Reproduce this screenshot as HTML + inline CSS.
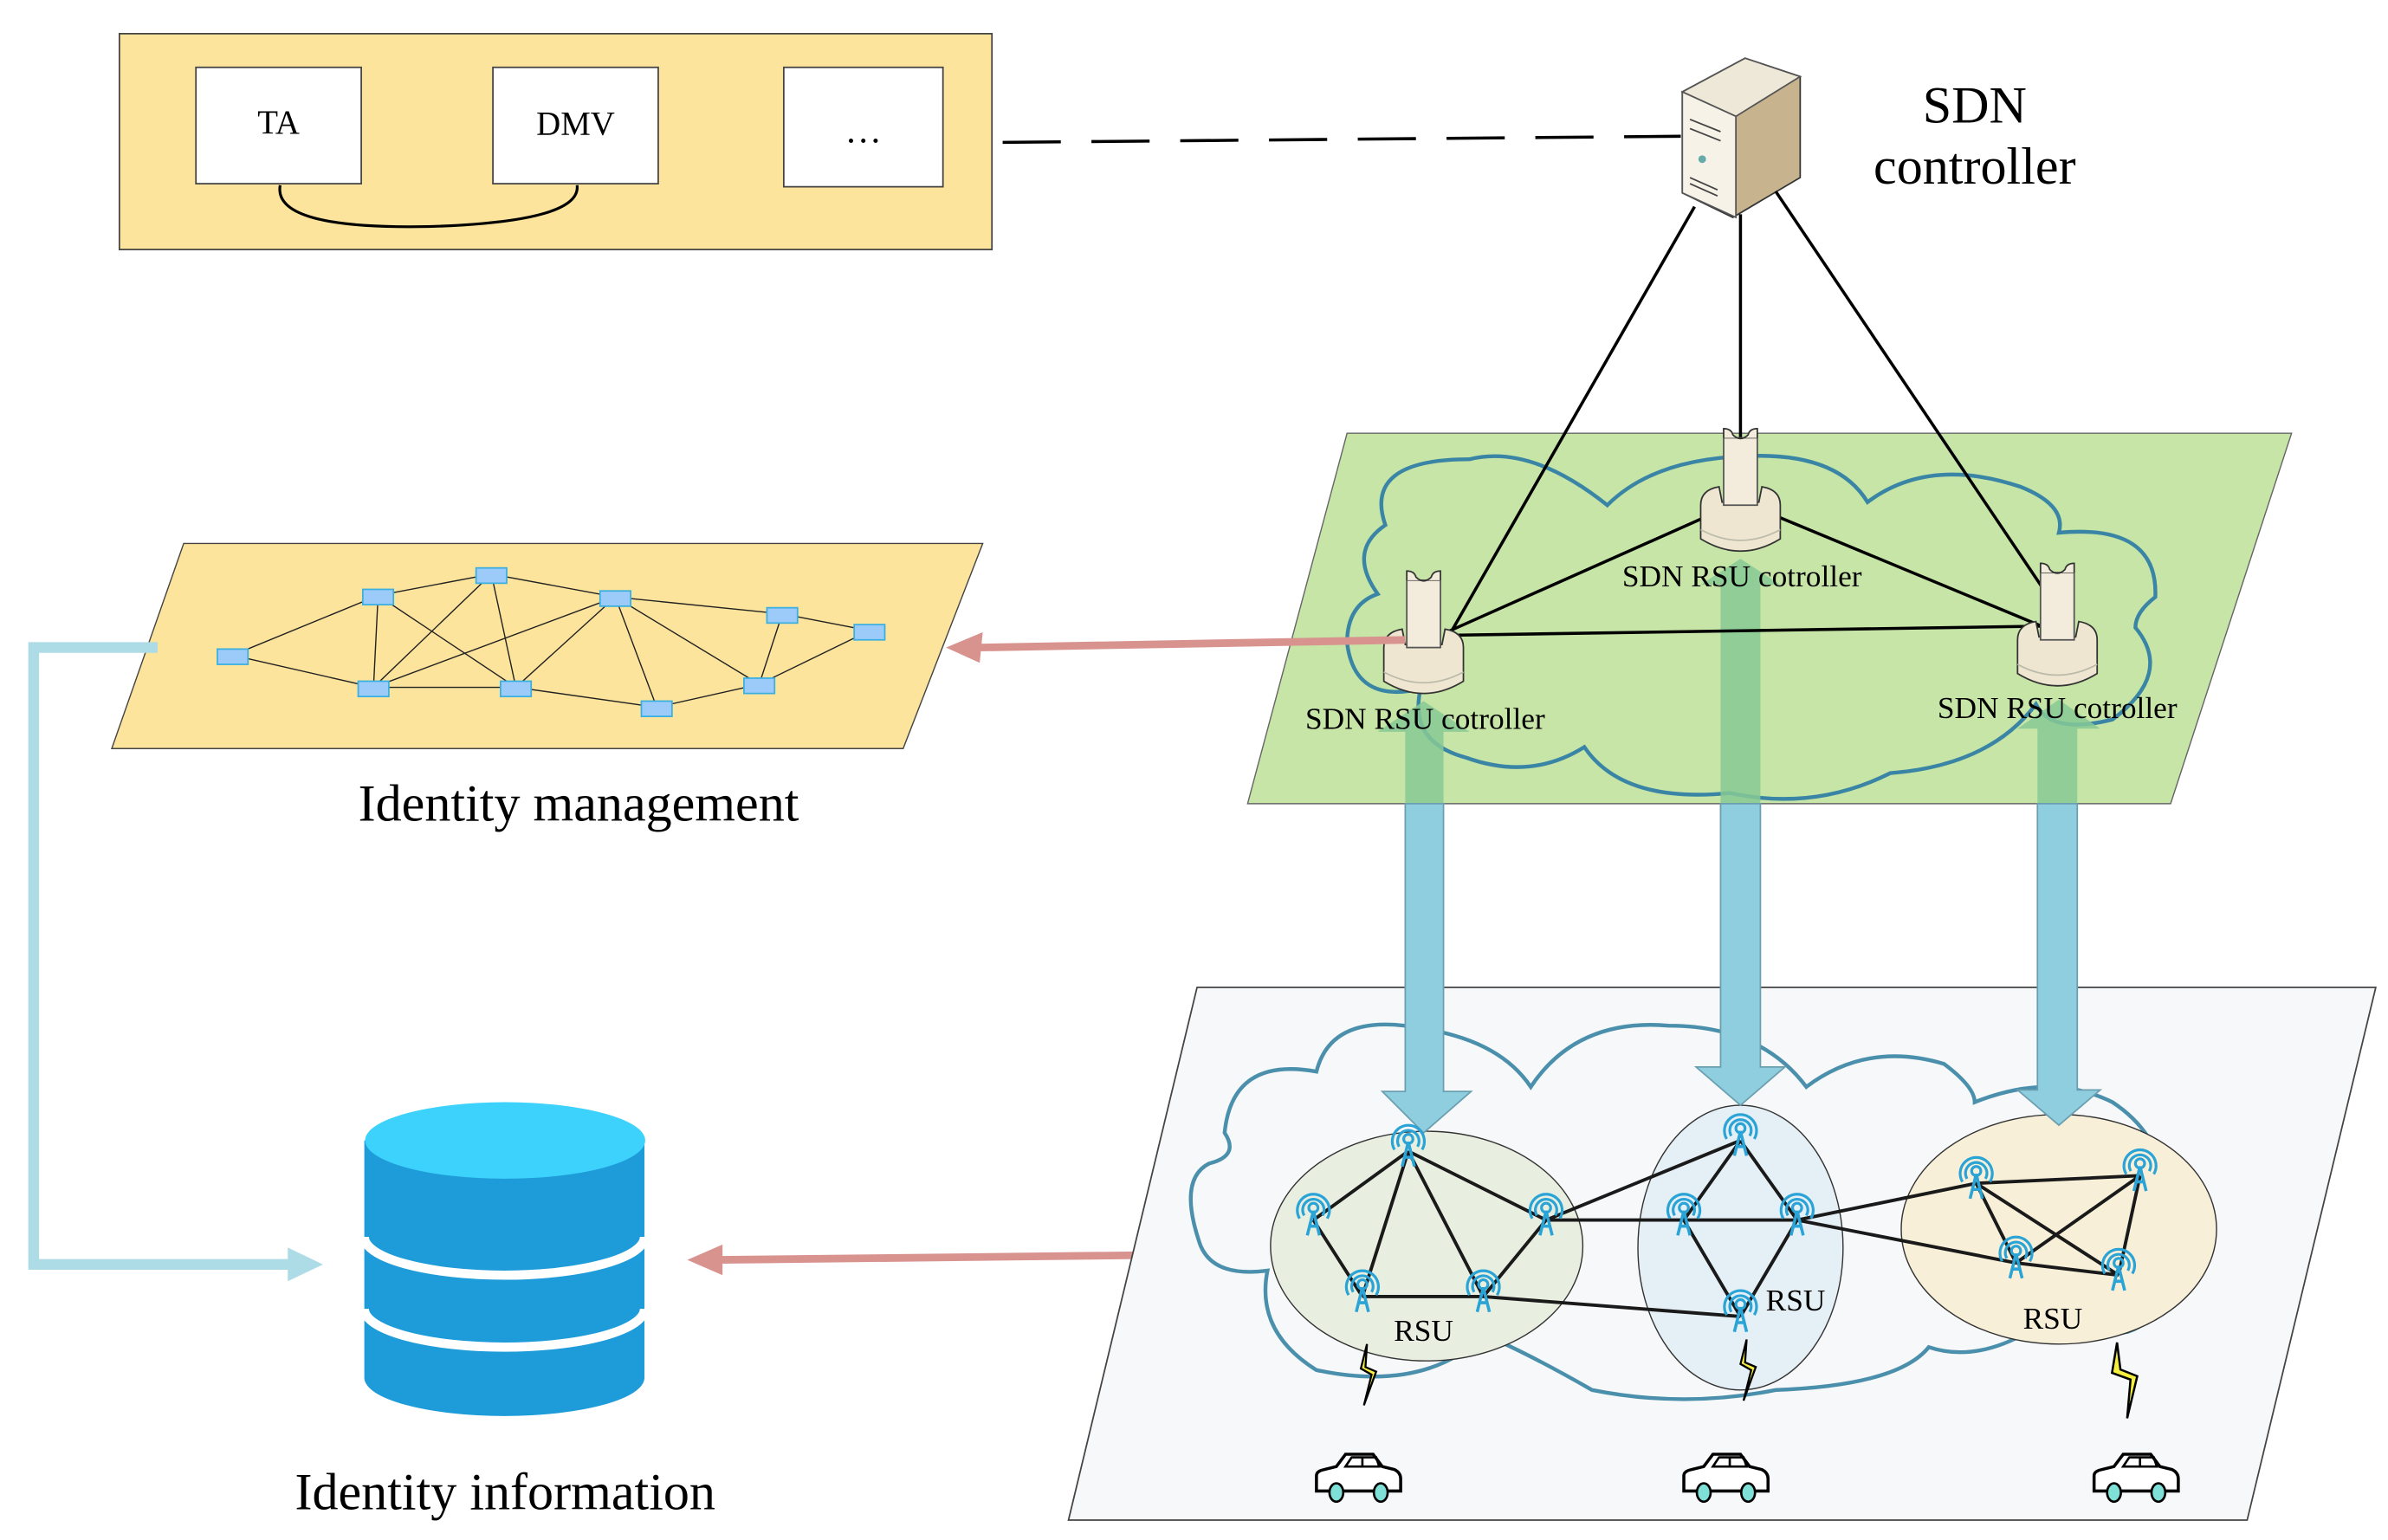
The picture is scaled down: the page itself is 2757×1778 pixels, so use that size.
<!DOCTYPE html>
<html><head><meta charset="utf-8"><style>
html,body{margin:0;padding:0;background:#fff;}
svg{display:block;}
text{font-family:"Liberation Serif",serif;fill:#000;}
</style></head><body>
<svg width="2757" height="1778" viewBox="0 0 1560 1006" preserveAspectRatio="none" xmlns="http://www.w3.org/2000/svg">
<defs>
<g id="tower">
 <path d="M-4,10 L0,-6 L4,10 M-2.5,4 L2.5,4" stroke="#2aa3d6" stroke-width="2" fill="none"/>
 <circle cx="0" cy="-8" r="3" fill="none" stroke="#2aa3d6" stroke-width="1.8"/>
 <path d="M-6,-3 A7,7 0 1 1 6,-3 M-9,-1 A10.5,10.5 0 1 1 9,-1" fill="none" stroke="#2aa3d6" stroke-width="1.8"/>
</g>
<g id="ctrl">
 <path d="M-26,8 Q-26,-2 -14,-4 L-12,6 L12,6 L14,-4 Q26,-2 26,8 L26,30 Q0,46 -26,30 Z" fill="#efe6d2" stroke="#333" stroke-width="1"/>
 <path d="M-26,24 Q0,38 26,24" fill="none" stroke="#bba" stroke-width="1"/>
 <rect x="-11" y="-36" width="22" height="44" fill="#f3ecdc" stroke="#555" stroke-width="1"/>
 <path d="M-11,-36 L-11,-42 Q-6,-42 -5,-38 Q0,-33 5,-38 Q6,-42 11,-42 L11,-36" fill="#f3ecdc" stroke="#333"/>
</g>
<g id="car">
 <path d="M-27,8 L-27,-2 Q-27,-5 -22,-6 L-14,-8 L-8,-16 L10,-16 L16,-8 L24,-6 Q28,-4 28,0 L28,8 Z" fill="#fff" stroke="#000" stroke-width="2"/>
 <path d="M-8,-8 L-4,-14 L12,-14 L14,-8 Z M3,-14 L3,-8" fill="none" stroke="#000" stroke-width="1.5"/>
 <ellipse cx="-14" cy="9" rx="4.5" ry="6" fill="#7fe0d8" stroke="#000" stroke-width="1.5"/>
 <ellipse cx="15" cy="9" rx="4.5" ry="6" fill="#7fe0d8" stroke="#000" stroke-width="1.5"/>
</g>
<g id="bolt"><path d="M0,0 L-4,16 L3,20 L-2,40 L6,18 L-1,15 Z" fill="#f5f040" stroke="#000" stroke-width="1.3"/></g>
</defs>

<!-- top yellow box -->
<rect x="78" y="22" width="570" height="141" fill="#fde49c" stroke="#444" stroke-width="1"/>
<rect x="128" y="44" width="108" height="76" fill="#fff" stroke="#444"/>
<rect x="322" y="44" width="108" height="76" fill="#fff" stroke="#444"/>
<rect x="512" y="44" width="104" height="78" fill="#fff" stroke="#444"/>
<text x="182" y="87" font-size="22" text-anchor="middle">TA</text>
<text x="376" y="88" font-size="22" text-anchor="middle">DMV</text>
<text x="564" y="93" font-size="24" text-anchor="middle">…</text>
<path d="M183,121 Q178,150 280,148 Q380,145 377,121" fill="none" stroke="#000" stroke-width="1.8"/>
<path d="M655,93 L1098,89" stroke="#000" stroke-width="2" stroke-dasharray="38,20"/>

<!-- server -->
<polygon points="1099,60 1140,38 1176,50 1176,116 1132,142 1099,126" fill="#c7b48f" stroke="#333"/>
<polygon points="1099,60 1134,76 1176,50 1140,38" fill="#eee8d8" stroke="#555"/>
<polygon points="1099,60 1134,76 1134,142 1099,126" fill="#f6f2e8" stroke="#555"/>
<circle cx="1112" cy="104" r="2.5" fill="#6aa"/>
<path d="M1104,78 L1124,86 M1104,84 L1124,92 M1104,116 L1122,124 M1104,120 L1122,128" stroke="#444"/>
<text x="1290" y="80" font-size="34" text-anchor="middle">SDN</text>
<text x="1290" y="120" font-size="34" text-anchor="middle">controller</text>

<!-- green plane -->
<polygon points="880,283 1497,283 1418,525 815,525" fill="#c6e5a6" stroke="#666" stroke-width="0.8"/>
<path d="M905,343 Q890,300 960,300 Q1000,290 1050,330 Q1080,300 1140,298 Q1200,295 1220,328 Q1260,298 1320,318 Q1350,330 1345,348 Q1410,342 1408,390 Q1395,400 1395,410 Q1420,440 1380,470 Q1340,480 1330,460 Q1300,500 1235,505 Q1185,530 1130,518 Q1060,525 1035,488 Q1000,510 958,495 Q920,485 928,450 Q885,460 880,420 Q880,395 900,388 Q880,360 905,343 Z" fill="none" stroke="#3a85a5" stroke-width="2.5"/>

<!-- up arrows in green plane -->
<g fill="#86c994" opacity="0.85">
<path d="M918,525 L943,525 L943,478 L960,478 L930,458 L900,478 L918,478 Z"/>
<path d="M1124,525 L1150,525 L1150,382 L1163,382 L1137,365 L1111,382 L1124,382 Z"/>
<path d="M1331,525 L1357,525 L1357,476 L1372,476 L1345,457 L1318,476 L1331,476 Z"/>
</g>

<!-- controller lines -->
<g stroke="#000" stroke-width="2" fill="none">
<path d="M1107,135 L945,418"/>
<path d="M1137,140 L1137,290"/>
<path d="M1160,125 L1337,388"/>
<path d="M945,413 L1127,332"/>
<path d="M1148,332 L1336,410"/>
<path d="M945,415 L1336,409"/>
</g>
<use href="#ctrl" x="1137" y="322"/>
<use href="#ctrl" x="930" y="415"/>
<use href="#ctrl" x="1344" y="410"/>
<text x="1138" y="383" font-size="20" text-anchor="middle">SDN RSU cotroller</text>
<text x="931" y="476" font-size="20" text-anchor="middle">SDN RSU cotroller</text>
<text x="1344" y="469" font-size="20" text-anchor="middle">SDN RSU cotroller</text>

<!-- identity management -->
<polygon points="120,355 642,355 590,489 73,489" fill="#fde49c" stroke="#444" stroke-width="0.8"/>
<g stroke="#222" stroke-width="0.8">
<path d="M152,428 L247,389 M152,428 L244,449 M247,389 L321,375 M247,389 L244,449 M247,389 L337,449 M321,375 L244,449 M321,375 L337,449 M321,375 L402,390 M402,390 L244,449 M402,390 L337,449 M402,390 L511,401 M402,390 L429,462 M402,390 L496,447 M511,401 L568,412 M511,401 L496,447 M568,412 L496,447 M244,449 L337,449 M337,449 L429,462 M429,462 L496,447"/>
</g>
<g fill="#9ccaf9" stroke="#3bb0e0" stroke-width="1">
<rect x="142" y="424" width="20" height="10"/><rect x="237" y="385" width="20" height="10"/><rect x="311" y="371" width="20" height="10"/><rect x="392" y="386" width="20" height="10"/><rect x="501" y="397" width="20" height="10"/><rect x="558" y="408" width="20" height="10"/><rect x="234" y="445" width="20" height="10"/><rect x="327" y="445" width="20" height="10"/><rect x="419" y="458" width="20" height="10"/><rect x="486" y="443" width="20" height="10"/>
</g>
<text x="378" y="536" font-size="34" text-anchor="middle">Identity management</text>

<!-- red arrows -->
<path d="M918,418 L640,423" stroke="#d8938f" stroke-width="5"/>
<polygon points="618,423 642,413 640,433" fill="#d8938f"/>
<path d="M743,820 L470,823" stroke="#d8938f" stroke-width="5"/>
<polygon points="449,823 472,813 472,833" fill="#d8938f"/>

<!-- light blue L -->
<path d="M103,423 L22,423 L22,826 L192,826" fill="none" stroke="#addbe6" stroke-width="7"/>
<polygon points="211,826 188,815 188,837" fill="#addbe6"/>

<!-- database -->
<path d="M238,745 L238,900 A91.5,25 0 0 0 421,900 L421,745 Z" fill="#1e9bd9"/>
<ellipse cx="330" cy="745" rx="91.5" ry="25" fill="#3dd2fc"/>
<path d="M238,808 A91.5,25 0 0 0 421,808 M238,855 A91.5,25 0 0 0 421,855" fill="none" stroke="#fff" stroke-width="6"/>
<text x="330" y="986" font-size="34" text-anchor="middle">Identity information</text>

<!-- bottom plane -->
<polygon points="782,645 1552,645 1468,993 698,993" fill="#f7f8fa" stroke="#444" stroke-width="1"/>
<path d="M800,740 Q805,690 860,700 Q870,660 930,672 Q980,680 1000,710 Q1030,665 1090,670 Q1150,670 1180,710 Q1220,680 1270,695 Q1290,710 1290,720 Q1340,700 1380,720 Q1410,740 1412,770 Q1440,790 1418,815 Q1420,860 1390,870 Q1340,880 1325,870 Q1290,890 1260,880 Q1240,905 1160,908 Q1100,920 1040,908 Q1000,885 970,872 Q930,910 860,895 Q820,870 828,830 Q790,835 783,810 Q770,770 790,760 Q810,755 800,740 Z" fill="none" stroke="#4a8fab" stroke-width="2.5"/>
<ellipse cx="932" cy="814" rx="102" ry="75" fill="#e8efe0" stroke="#333" stroke-width="0.8"/>
<ellipse cx="1137" cy="815" rx="67" ry="93" fill="#e5eff6" stroke="#333" stroke-width="0.8"/>
<ellipse cx="1345" cy="803" rx="103" ry="75" fill="#f7efd8" stroke="#333" stroke-width="0.8"/>

<!-- blue arrows down -->
<g fill="#8fcedf" stroke="#6a9fb0" stroke-width="1">
<path d="M918,525 L943,525 L943,713 L961,713 L930,740 L903,713 L918,713 Z"/>
<path d="M1124,525 L1150,525 L1150,697 L1166,697 L1137,722 L1108,697 L1124,697 Z"/>
<path d="M1331,525 L1357,525 L1357,712 L1372,712 L1345,735 L1318,712 L1331,712 Z"/>
</g>

<g stroke="#1a1a1a" stroke-width="2.2" fill="none">
<path d="M920,752 L858,797 M920,752 L1010,797 M920,752 L890,847 M920,752 L969,847 M858,797 L890,847 M1010,797 L969,847 M890,847 L969,847 M969,847 L1137,860 M1010,797 L1137,745 M1010,797 L1174,797 M1137,745 L1100,797 M1137,745 L1174,797 M1100,797 L1137,860 M1174,797 L1137,860 M1174,797 L1291,773 M1174,797 L1317,825 M1291,773 L1398,768 M1291,773 L1317,825 M1291,773 L1384,833 M1398,768 L1317,825 M1398,768 L1384,833 M1317,825 L1384,833"/>
</g>
<g>
<use href="#tower" x="920" y="752"/><use href="#tower" x="858" y="797"/><use href="#tower" x="1010" y="797"/><use href="#tower" x="890" y="847"/><use href="#tower" x="969" y="847"/>
<use href="#tower" x="1137" y="745"/><use href="#tower" x="1100" y="797"/><use href="#tower" x="1174" y="797"/><use href="#tower" x="1137" y="860"/>
<use href="#tower" x="1291" y="773"/><use href="#tower" x="1398" y="768"/><use href="#tower" x="1317" y="825"/><use href="#tower" x="1384" y="833"/>
</g>
<text x="930" y="876" font-size="20" text-anchor="middle">RSU</text>
<text x="1173" y="856" font-size="20" text-anchor="middle">RSU</text>
<text x="1341" y="868" font-size="20" text-anchor="middle">RSU</text>
<use href="#bolt" x="893" y="878"/>
<use href="#bolt" x="1141" y="875"/>
<g transform="translate(1383,877) scale(1.1)"><path d="M0,0 L-3,18 L8,22 L6,45 L12,20 L2,16 Z" fill="#f5f040" stroke="#000" stroke-width="1.3"/></g>
<use href="#car" x="887" y="966"/>
<use href="#car" x="1127" y="966"/>
<use href="#car" x="1395" y="966"/>
</svg>
</body></html>
